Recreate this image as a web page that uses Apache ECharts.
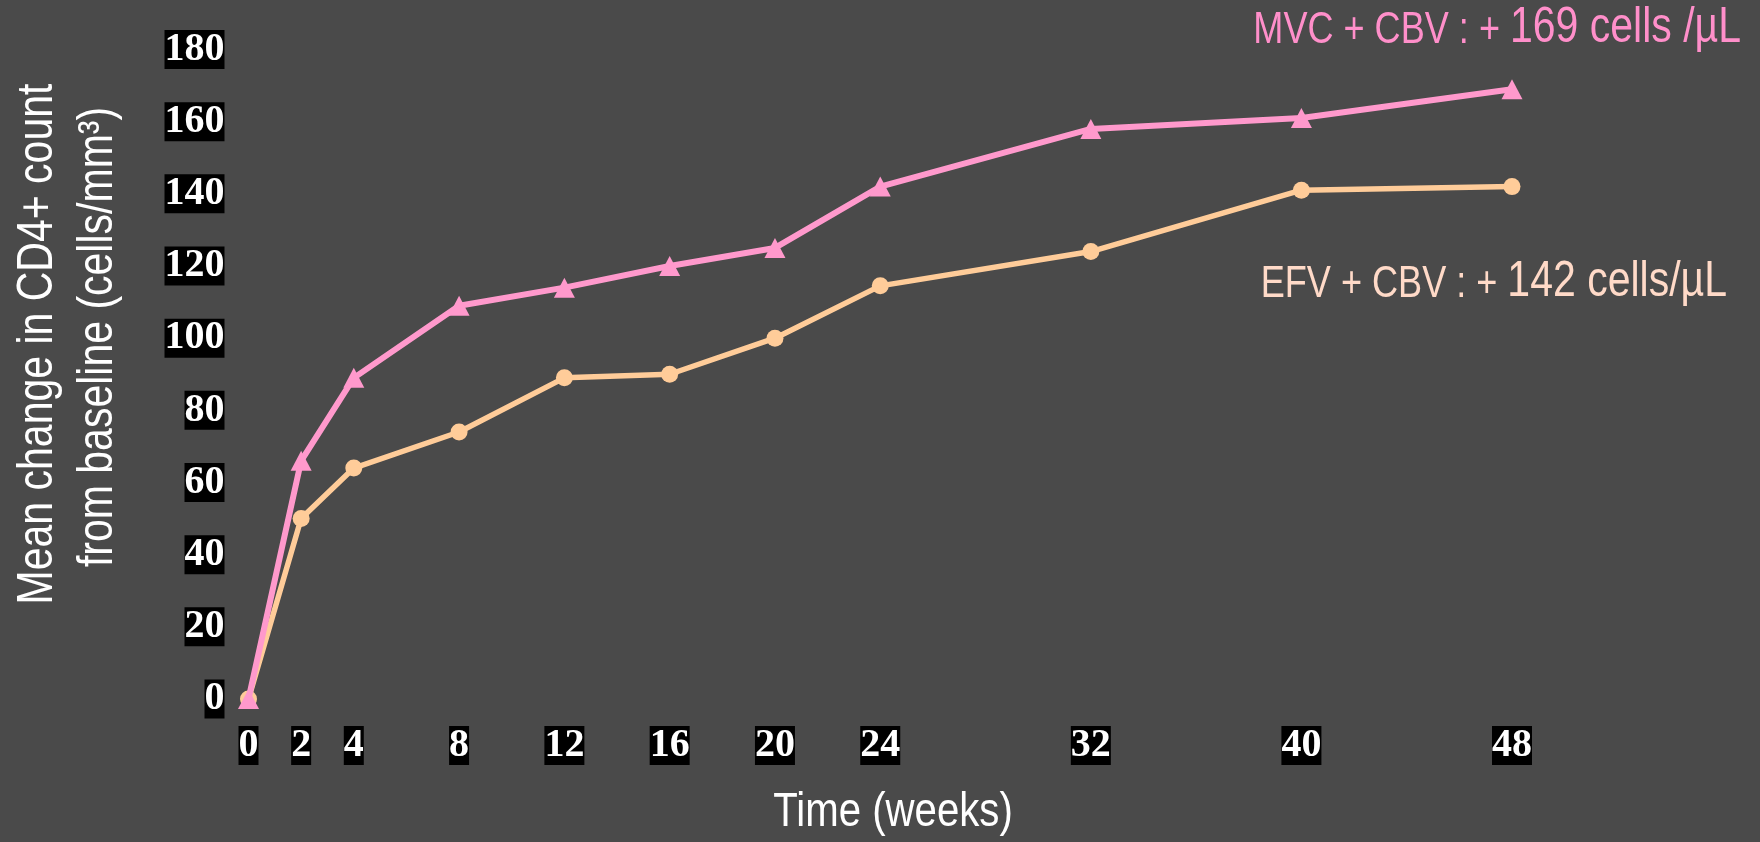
<!DOCTYPE html>
<html>
<head>
<meta charset="utf-8">
<script src="https://cdn.jsdelivr.net/npm/echarts@6/dist/echarts.min.js"></script>
<style>
html,body{margin:0;padding:0;background:#4a4a4a;}
#chart{width:1760px;height:842px;}
</style>
</head>
<body>
<div id="chart"></div>
<script>
// Data
const weeks = [0, 2, 4, 8, 12, 16, 20, 24, 32, 40, 48];
const mvcValues = [0, 66, 89, 109, 114, 120, 125, 142, 158, 161, 169];
const efvValues = [0, 50, 64, 74, 89, 90, 100, 114.5, 124, 141, 142];
const yTicks = [0, 20, 40, 60, 80, 100, 120, 140, 160, 180];
const mvcName = 'MVC + CBV';
const efvName = 'EFV + CBV';
const mvcNote = ['MVC + CBV : + ', '169 cells /µL'];
const efvNote = ['EFV + CBV : + ', '142 cells/µL'];
const xTitle = 'Time (weeks)';
const yTitle = ['Mean change in CD4+ count', 'from baseline (cells/mm³)'];

const sans = "'Liberation Sans', Arial, sans-serif";
const serif = "'Liberation Serif', 'DejaVu Serif', serif";
const pink = '#ff99cc';
const peach = '#ffcc99';
const narrowScale = 0.82;

const tickLabel = {
  color: '#ffffff',
  fontFamily: serif,
  fontWeight: 'bold',
  fontSize: 40,
  lineHeight: 39,
  backgroundColor: '#000000',
  padding: [0, 0, 0, 0]
};

const chart = echarts.init(document.getElementById('chart'));
chart.setOption({
  backgroundColor: '#4a4a4a',
  animation: false,
  grid: { left: 248.5, top: 49.5, width: 1263.5, height: 649.5 },
  xAxis: {
    type: 'value',
    min: 0,
    max: 48,
    axisLine: { show: false },
    axisTick: { show: false },
    splitLine: { show: false },
    axisLabel: Object.assign({ margin: 27, customValues: weeks }, tickLabel)
  },
  yAxis: {
    type: 'value',
    min: 0,
    max: 180,
    interval: 20,
    axisLine: { show: false },
    axisTick: { show: false },
    splitLine: { show: false },
    axisLabel: Object.assign({ margin: 24, customValues: yTicks }, tickLabel)
  },
  series: [
    {
      name: efvName,
      type: 'line',
      data: weeks.map((w, i) => [w, efvValues[i]]),
      symbol: 'circle',
      symbolSize: 17,
      lineStyle: { color: peach, width: 5.5 },
      itemStyle: { color: peach },
      z: 2
    },
    {
      name: mvcName,
      type: 'line',
      data: weeks.map((w, i) => [w, mvcValues[i]]),
      symbol: 'triangle',
      symbolSize: [21, 20],
      lineStyle: { color: pink, width: 6 },
      itemStyle: { color: pink },
      z: 3
    }
  ],
  graphic: [
    {
      type: 'text', x: 1741, y: 28, scaleX: narrowScale,
      style: {
        text: '{a|' + mvcNote[0] + '}{b|' + mvcNote[1] + '}',
        align: 'right', verticalAlign: 'middle',
        rich: {
          a: { fontFamily: sans, fontSize: 44, lineHeight: 50, verticalAlign: 'bottom', fill: '#ff8fca' },
          b: { fontFamily: sans, fontSize: 50, lineHeight: 50, verticalAlign: 'bottom', fill: '#ff8fca' }
        }
      }
    },
    {
      type: 'text', x: 1727, y: 282, scaleX: narrowScale,
      style: {
        text: '{a|' + efvNote[0] + '}{b|' + efvNote[1] + '}',
        align: 'right', verticalAlign: 'middle',
        rich: {
          a: { fontFamily: sans, fontSize: 44, lineHeight: 50, verticalAlign: 'bottom', fill: '#ffdac8' },
          b: { fontFamily: sans, fontSize: 50, lineHeight: 50, verticalAlign: 'bottom', fill: '#ffdac8' }
        }
      }
    },
    {
      type: 'text', x: 893, y: 812, scaleX: narrowScale,
      style: { text: xTitle, fontFamily: sans, fontSize: 49, fill: '#ffffff', align: 'center', verticalAlign: 'middle' }
    },
    {
      type: 'text', x: 38, y: 344, rotation: Math.PI / 2, scaleX: narrowScale,
      style: { text: yTitle[0], fontFamily: sans, fontSize: 50, fill: '#ffffff', align: 'center', verticalAlign: 'middle' }
    },
    {
      type: 'text', x: 98, y: 337, rotation: Math.PI / 2, scaleX: narrowScale,
      style: { text: yTitle[1], fontFamily: sans, fontSize: 50, fill: '#ffffff', align: 'center', verticalAlign: 'middle' }
    }
  ]
});
</script>
</body>
</html>
